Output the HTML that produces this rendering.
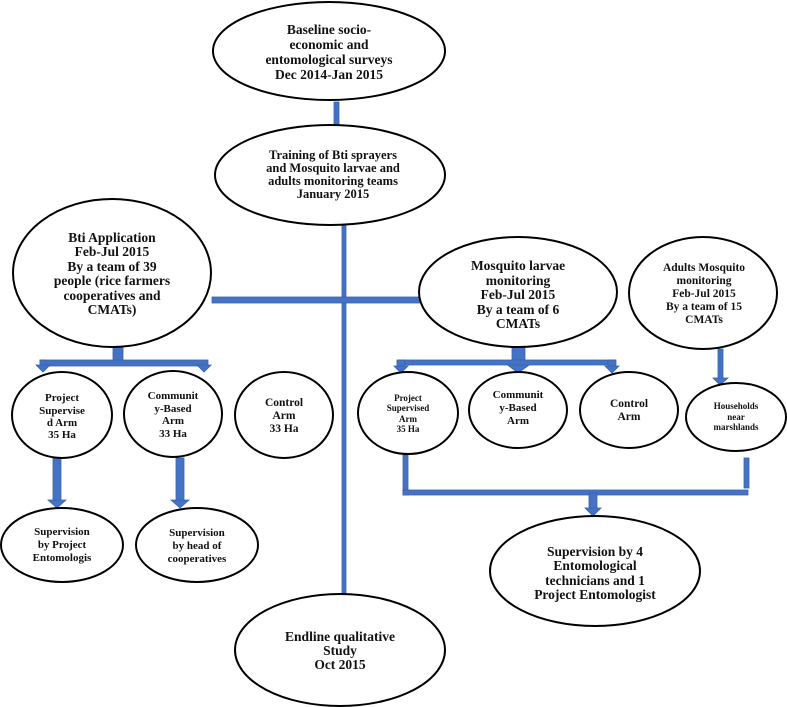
<!DOCTYPE html>
<html><head><meta charset="utf-8"><style>
html,body{margin:0;padding:0;background:#fff;}
svg{display:block;}
text{font-family:"Liberation Serif",serif;font-weight:bold;fill:#111;text-anchor:middle;}
.e{fill:#fff;stroke:#000;stroke-width:2;}
.b{fill:#4472c4;stroke:#3a62aa;stroke-width:0.8;}
</style></head><body>
<svg width="787" height="707" viewBox="0 0 787 707" xmlns="http://www.w3.org/2000/svg">
<!-- connectors -->
<rect class="b" x="334" y="102" width="5" height="25"/>
<rect class="b" x="342" y="224" width="4" height="371"/>
<rect class="b" x="212" y="297" width="208" height="6"/>
<!-- left branch -->
<rect class="b" x="113" y="347" width="10" height="14"/>
<rect class="b" x="40" y="360" width="168" height="6"/>
<rect class="b" x="40" y="360" width="6" height="6"/>
<polygon class="b" points="36,365 50,365 43,372"/>
<polygon class="b" points="197,365 211,365 204,372"/>
<rect class="b" x="53" y="458" width="8" height="43"/>
<polygon class="b" points="48,500 66,500 57,508"/>
<rect class="b" x="176" y="458" width="8" height="43"/>
<polygon class="b" points="171,500 189,500 180,508"/>
<!-- right branch -->
<rect class="b" x="512" y="347" width="13" height="17"/>
<polygon class="b" points="505,363 532,363 518,373"/>
<rect class="b" x="399" y="360" width="216" height="5"/>
<rect class="b" x="397" y="360" width="8" height="8"/>
<polygon class="b" points="394,366 408,366 401,373"/>
<rect class="b" x="608" y="360" width="8" height="8"/>
<polygon class="b" points="605,366 619,366 612,373"/>
<rect class="b" x="718" y="349" width="5" height="30"/>
<polygon class="b" points="713,378 728,378 720,385"/>
<rect class="b" x="403" y="455" width="5" height="40"/>
<rect class="b" x="744" y="458" width="5" height="30"/>
<rect class="b" x="403" y="490" width="345" height="5"/>
<rect class="b" x="589" y="493" width="8" height="16"/>
<polygon class="b" points="585,508 601,508 593,516"/>
<!-- nodes -->
<ellipse class="e" cx="329" cy="51" rx="116" ry="49"/>
<text font-size="13.5"><tspan x="329" y="34">Baseline socio-</tspan><tspan x="329" y="49">economic and</tspan><tspan x="329" y="64">entomological surveys</tspan><tspan x="329" y="79">Dec 2014-Jan 2015</tspan></text>
<ellipse class="e" cx="330" cy="175" rx="115" ry="50"/>
<text font-size="12.5"><tspan x="333" y="159">Training of Bti sprayers</tspan><tspan x="333" y="172">and Mosquito larvae and</tspan><tspan x="333" y="185">adults monitoring teams</tspan><tspan x="333" y="198">January 2015</tspan></text>
<ellipse class="e" cx="112" cy="273" rx="99" ry="74"/>
<text font-size="13.5"><tspan x="112" y="242">Bti Application</tspan><tspan x="112" y="256">Feb-Jul 2015</tspan><tspan x="112" y="271">By a team of 39</tspan><tspan x="112" y="285">people (rice farmers</tspan><tspan x="112" y="300">cooperatives and</tspan><tspan x="112" y="314">CMATs)</tspan></text>
<ellipse class="e" cx="518" cy="292" rx="99" ry="55"/>
<text font-size="13.5"><tspan x="518" y="270">Mosquito larvae</tspan><tspan x="518" y="285">monitoring</tspan><tspan x="518" y="299">Feb-Jul 2015</tspan><tspan x="518" y="314">By a team of 6</tspan><tspan x="518" y="328">CMATs</tspan></text>
<ellipse class="e" cx="703" cy="293" rx="74" ry="56"/>
<text font-size="11.5"><tspan x="704" y="271">Adults Mosquito</tspan><tspan x="704" y="284">monitoring</tspan><tspan x="704" y="297">Feb-Jul 2015</tspan><tspan x="704" y="310">By a team of 15</tspan><tspan x="704" y="323">CMATs</tspan></text>
<ellipse class="e" cx="62" cy="415" rx="50" ry="43"/>
<text font-size="11"><tspan x="62" y="401">Project</tspan><tspan x="62" y="414">Supervise</tspan><tspan x="62" y="426">d Arm</tspan><tspan x="62" y="438">35 Ha</tspan></text>
<ellipse class="e" cx="173" cy="414" rx="49" ry="43"/>
<text font-size="11"><tspan x="173" y="399">Communit</tspan><tspan x="173" y="412">y-Based</tspan><tspan x="173" y="424">Arm</tspan><tspan x="173" y="437">33 Ha</tspan></text>
<ellipse class="e" cx="284" cy="415" rx="49" ry="43"/>
<text font-size="11.5"><tspan x="284" y="406">Control</tspan><tspan x="284" y="419">Arm</tspan><tspan x="284" y="432">33 Ha</tspan></text>
<ellipse class="e" cx="408" cy="413" rx="50" ry="41"/>
<text font-size="9"><tspan x="408" y="401">Project</tspan><tspan x="408" y="411">Supervised</tspan><tspan x="408" y="422">Arm</tspan><tspan x="408" y="432">35 Ha</tspan></text>
<ellipse class="e" cx="518" cy="410" rx="49" ry="38"/>
<text font-size="11"><tspan x="518" y="398">Communit</tspan><tspan x="518" y="411">y-Based</tspan><tspan x="518" y="424">Arm</tspan></text>
<ellipse class="e" cx="629" cy="410" rx="49" ry="38"/>
<text font-size="11.5"><tspan x="629" y="407">Control</tspan><tspan x="629" y="420">Arm</tspan></text>
<ellipse class="e" cx="736" cy="417" rx="50" ry="34"/>
<text font-size="9"><tspan x="736" y="409">Households</tspan><tspan x="736" y="420">near</tspan><tspan x="736" y="430">marshlands</tspan></text>
<ellipse class="e" cx="62" cy="545" rx="61" ry="37"/>
<text font-size="11"><tspan x="62" y="535">Supervision</tspan><tspan x="62" y="548">by Project</tspan><tspan x="62" y="561">Entomologis</tspan></text>
<ellipse class="e" cx="197" cy="545" rx="61" ry="37"/>
<text font-size="11"><tspan x="197" y="536">Supervision</tspan><tspan x="197" y="549">by head of</tspan><tspan x="197" y="562">cooperatives</tspan></text>
<ellipse class="e" cx="595" cy="571" rx="105" ry="55"/>
<text font-size="13.5"><tspan x="595" y="556">Supervision by 4</tspan><tspan x="595" y="570">Entomological</tspan><tspan x="595" y="585">technicians and 1</tspan><tspan x="595" y="599">Project Entomologist</tspan></text>
<ellipse class="e" cx="340" cy="650" rx="105" ry="56"/>
<text font-size="13.5"><tspan x="340" y="641">Endline qualitative</tspan><tspan x="340" y="655">Study</tspan><tspan x="340" y="669">Oct 2015</tspan></text>
</svg>
</body></html>
